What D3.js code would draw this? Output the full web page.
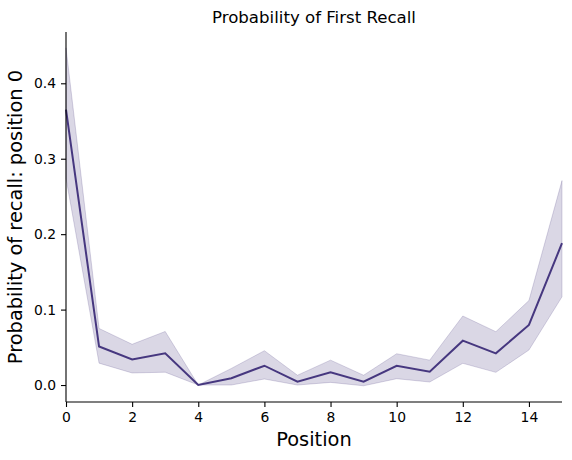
<!DOCTYPE html>
<html>
<head>
<meta charset="utf-8">
<script src="https://cdn.jsdelivr.net/npm/d3@7"></script>
<style>
  body { margin: 0; background: #fff; }
  svg text { font-family: "DejaVu Sans", sans-serif; fill: #000; }
</style>
</head>
<body>
<div id="chart"></div>
<script>
var positions = [0, 1, 2, 3, 4, 5, 6, 7, 8, 9, 10, 11, 12, 13, 14, 15];
var meanProb  = [0.365, 0.051, 0.034, 0.042, 0.0, 0.009, 0.0256, 0.0044, 0.0168, 0.0044, 0.0254, 0.0177, 0.0588, 0.042, 0.0796, 0.188];
var upperCI   = [0.447, 0.075, 0.054, 0.071, 0.0, 0.022, 0.0455, 0.013, 0.033, 0.013, 0.0415, 0.033, 0.0915, 0.0707, 0.112, 0.271];
var lowerCI   = [0.274, 0.029, 0.016, 0.017, 0.0, 0.0, 0.008, 0.0, 0.0035, -0.001, 0.0084, 0.004, 0.0288, 0.0168, 0.0464, 0.117];
var xTicks = [0, 2, 4, 6, 8, 10, 12, 14];
var yTicks = [0.0, 0.1, 0.2, 0.3, 0.4];

var width = 572, height = 460;
var margin = {top: 32, right: 10, bottom: 58, left: 66};
var lineColor = "#46377f";

var svg = d3.select("#chart").append("svg")
  .attr("width", width)
  .attr("height", height);

var x = d3.scaleLinear().domain([0, 15]).range([margin.left, width - margin.right]);
var y = d3.scaleLinear().domain([-0.0225, 0.468]).range([height - margin.bottom, margin.top]);

var data = positions.map(function(p, i) {
  return {x: p, m: meanProb[i], lo: lowerCI[i], hi: upperCI[i]};
});

// confidence band
svg.append("path")
  .datum(data)
  .attr("d", d3.area().x(d => x(d.x)).y0(d => y(d.lo)).y1(d => y(d.hi)))
  .attr("fill", lineColor).attr("fill-opacity", 0.2)
  .attr("stroke", lineColor).attr("stroke-opacity", 0.2).attr("stroke-width", 1);

// mean line
svg.append("path")
  .datum(data)
  .attr("d", d3.line().x(d => x(d.x)).y(d => y(d.m)))
  .attr("fill", "none")
  .attr("stroke", lineColor)
  .attr("stroke-width", 2);

var xAxis = svg.append("g")
  .attr("transform", "translate(0," + (height - margin.bottom) + ")")
  .call(d3.axisBottom(x).tickValues(xTicks).tickFormat(d3.format("d")).tickSize(5).tickPadding(5));

var yAxis = svg.append("g")
  .attr("transform", "translate(" + margin.left + ",0)")
  .call(d3.axisLeft(y).tickValues(yTicks).tickFormat(d3.format(".1f")).tickSize(5).tickPadding(5));

[xAxis, yAxis].forEach(function(g) {
  g.selectAll("text").style("font-size", "13.9px").attr("fill", "#000");
  g.selectAll("line").attr("stroke", "#000").attr("stroke-width", 1.1);
  g.select(".domain").attr("stroke", "#000").attr("stroke-width", 1.1);
});
// matplotlib-style spines without end caps
xAxis.select(".domain").attr("d", "M" + margin.left + ",0H" + (width - margin.right));
yAxis.select(".domain").attr("d", "M0," + margin.top + "V" + (height - margin.bottom));

svg.append("text")
  .attr("x", (margin.left + width - margin.right) / 2)
  .attr("y", 23)
  .attr("text-anchor", "middle")
  .style("font-size", "16.6px")
  .text("Probability of First Recall");

svg.append("text")
  .attr("x", (margin.left + width - margin.right) / 2)
  .attr("y", 446)
  .attr("text-anchor", "middle")
  .style("font-size", "19.4px")
  .text("Position");

svg.append("text")
  .attr("transform", "translate(22," + ((margin.top + height - margin.bottom) / 2) + ")rotate(-90)")
  .attr("text-anchor", "middle")
  .style("font-size", "19.4px")
  .text("Probability of recall: position 0");
</script>
</body>
</html>
